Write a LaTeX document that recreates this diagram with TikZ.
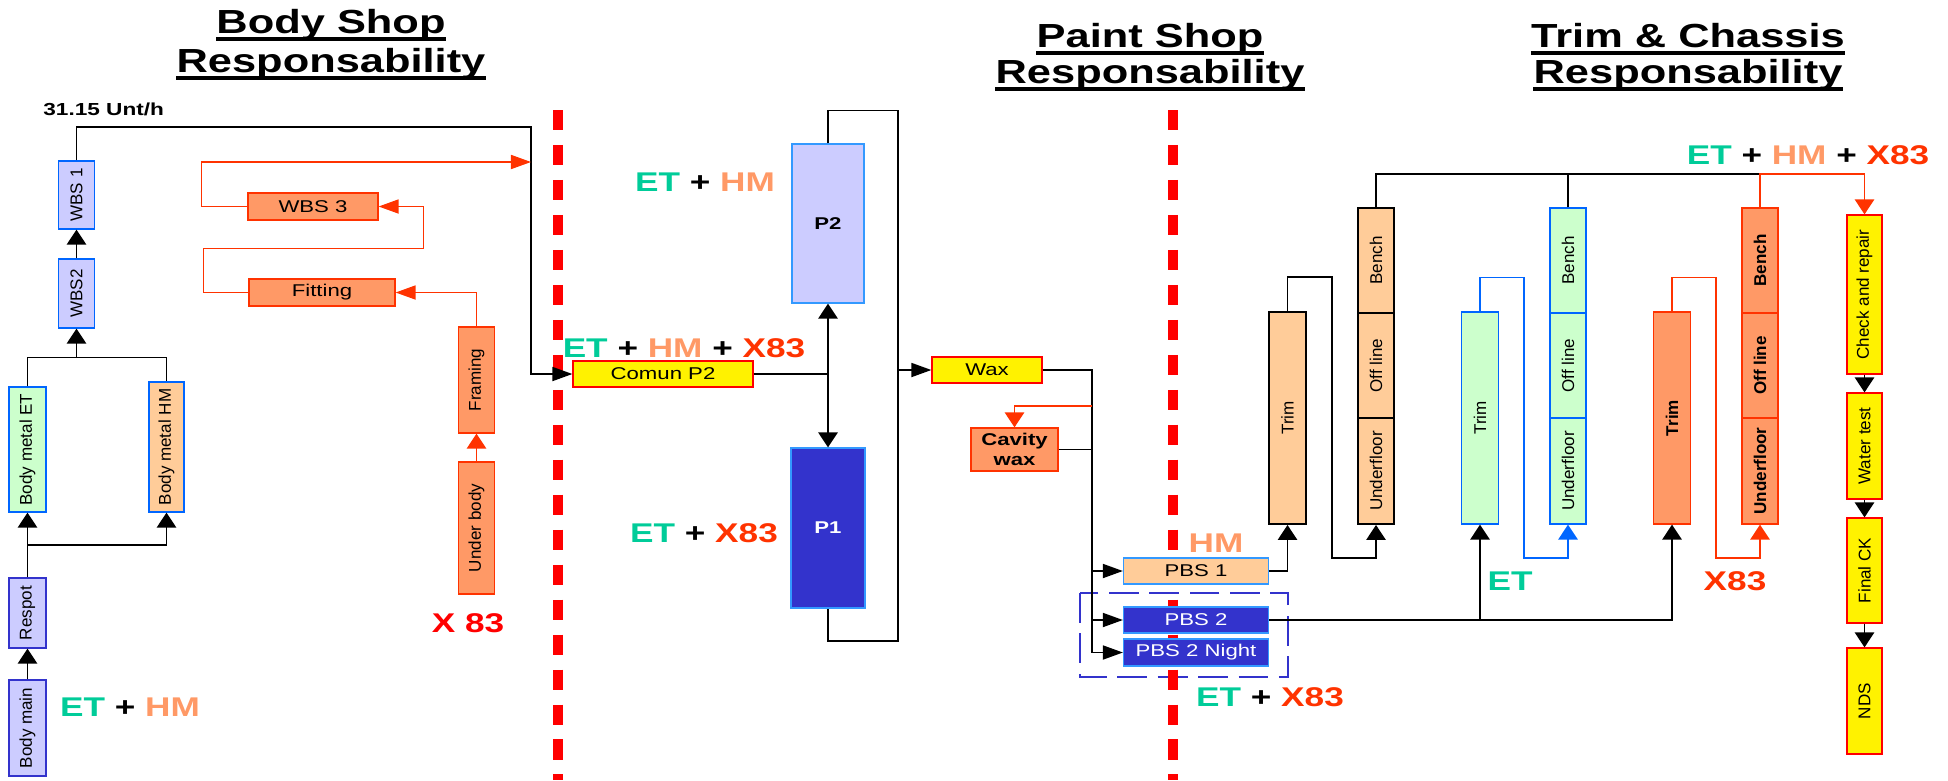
\documentclass[tikz,border=0pt]{standalone}
\usepackage{fontspec}
\setmainfont{Liberation Sans}
\newfontfamily\hfont{Liberation Sans}[FakeStretch=1.3]
\usetikzlibrary{arrows.meta}

\definecolor{lav}{HTML}{CCCCFF}
\definecolor{mint}{HTML}{CCFFCC}
\definecolor{peach}{HTML}{FFCC99}
\definecolor{salmon}{HTML}{FF9966}
\definecolor{navy}{HTML}{3333CC}
\definecolor{bblue}{HTML}{0066FF}
\definecolor{lblue}{HTML}{3399FF}
\definecolor{xred}{HTML}{FF3300}
\definecolor{etgreen}{HTML}{00CC99}
\definecolor{hmorange}{HTML}{FF9966}

\newcommand\lblET{\textcolor{etgreen}{ET}}
\newcommand\lblHM{\textcolor{hmorange}{HM}}
\newcommand\lblX{\textcolor{xred}{X83}}

\begin{document}
\begin{tikzpicture}[x=0.2mm, y=-0.2mm,
    sz/.style 2 args={minimum width=#1*0.2mm, minimum height=#2*0.2mm},
    hbox/.style={draw, line width=0.7pt, inner sep=0pt, align=center, font=\hfont\fontsize{9.7pt}{11pt}\selectfont},
    vbox/.style={draw, line width=0.7pt, inner sep=0pt, label={[rotate=90, inner sep=0pt, font=\fontsize{9.7pt}{11pt}\selectfont]center:#1}},
    vboxb/.style={draw, line width=0.7pt, inner sep=0pt, label={[rotate=90, inner sep=0pt, font=\bfseries\fontsize{9.7pt}{11pt}\selectfont]center:#1}},
    lavbox/.style={fill=lav, draw=bblue},
    mintbox/.style={fill=mint, draw=bblue},
    peachbox/.style={fill=peach, draw=bblue},
    salbox/.style={fill=salmon, draw=xred},
    yelbox/.style={fill=yellow, draw=red},
    navbox/.style={fill=navy, draw=lblue, text=white},
    line/.style={line width=0.9pt},
    rline/.style={xred, line width=0.9pt},
    bline/.style={bblue, line width=0.9pt},
    harr/.style={-{Triangle[length=11.4pt,width=8pt]}},
    varr/.style={-{Triangle[length=8.5pt,width=11pt]}},
    divider/.style={red, line width=6pt, dash pattern=on 11.4pt off 8.5pt},
    grp/.style={navy, line width=1.6pt, dash pattern=on 17pt off 6pt},
    ttl/.style={font=\hfont\bfseries\fontsize{19pt}{22pt}\selectfont, inner sep=0pt, anchor=base},
    uline/.style={line width=1.8pt},
    lbl/.style={font=\hfont\bfseries\fontsize{15.4pt}{17pt}\selectfont, inner sep=0pt}]

    \useasboundingbox (0,0) rectangle (1948,780);

    % titles
    \node[ttl] (tb1) at (331,33) {Body Shop};
    \node[ttl] (tb2) at (331,72) {Responsability};
    \node[ttl] (tp1) at (1150,47) {Paint Shop};
    \node[ttl] (tp2) at (1150,83) {Responsability};
    \node[ttl] (tt1) at (1688,47) {Trim \& Chassis\ };
    \node[ttl] (tt2) at (1688,83) {Responsability};
    \foreach \t in {tb1,tb2,tp1,tp2,tt1,tt2}
        \draw[uline] ([yshift=-1.2mm]\t.base west) -- ([yshift=-1.2mm]\t.base east);

    % group frame and shop borders
    \draw[grp] (1080,593) rectangle (1288,677);
    \draw[divider] (558,110) -- (558,780);
    \draw[divider] (1173,110) -- (1173,780);

    % body shop
    \node[vbox={Body main}, lavbox, draw=navy, sz={37}{96}] (bmain) at (27.5,728) {};
    \node[vbox={Respot}, lavbox, draw=navy, sz={37}{70}] (respot) at (27.5,613) {};
    \node[vbox={Body metal ET}, mintbox, sz={37}{125}] (bmet) at (27.5,449.5) {};
    \node[vbox={Body metal HM}, peachbox, sz={35}{130}] (bmhm) at (166.5,447) {};
    \node[vbox={WBS2}, lavbox, sz={36}{69}] (wbs2) at (76.5,293.5) {};
    \node[vbox={WBS 1}, lavbox, sz={36}{68}] (wbs1) at (76.5,195) {};
    \node[hbox, salbox, sz={130}{27}] (wbs3) at (313,206.5) {WBS 3};
    \node[hbox, salbox, sz={146}{27}] (fitting) at (322,292.5) {Fitting};
    \node[vbox={Framing}, salbox, sz={36}{106}] (framing) at (476.5,380) {};
    \node[vbox={Under body}, salbox, sz={36}{132}] (underbody) at (476.5,528) {};

    % paint shop
    \node[hbox, yelbox, sz={180}{26}] (comun) at (663,374) {Comun P2};
    \node[hbox, lavbox, draw=lblue, sz={72}{159}, font=\hfont\bfseries\fontsize{9.7pt}{11pt}\selectfont] (p2) at (828,223.5) {P2};
    \node[hbox, navbox, sz={74}{160}, font=\hfont\bfseries\fontsize{9.7pt}{11pt}\selectfont] (p1) at (828,528) {P1};
    \node[hbox, yelbox, sz={110}{26}] (wax) at (987,370) {Wax};
    \node[hbox, salbox, sz={87}{43}, font=\hfont\bfseries\fontsize{9.7pt}{11pt}\selectfont] (cavity) at (1014.5,449.5) {Cavity\\wax};
    \node[hbox, peachbox, draw=lblue, sz={145}{26}] (pbs1) at (1196,571) {PBS 1};
    \node[hbox, navbox, sz={145}{26}] (pbs2) at (1196,620) {PBS 2};
    \node[hbox, navbox, sz={145}{27}] (pbs2n) at (1196,652.5) {PBS 2 Night};

    % trim & chassis
    \node[vbox={Trim}, fill=peach, line width=1.1pt, sz={37}{212}] (trimhm) at (1287.5,418) {};
    \node[vbox={Bench}, fill=peach, line width=1.1pt, sz={36}{105}] (hbench) at (1376,260.5) {};
    \node[vbox={Off line}, fill=peach, line width=1.1pt, sz={36}{105}] (hoff) at (1376,365.5) {};
    \node[vbox={Underfloor}, fill=peach, line width=1.1pt, sz={36}{106}] (hunder) at (1376,471) {};
    \node[vbox={Trim}, mintbox, sz={37}{212}] (trimet) at (1480,418) {};
    \node[vbox={Bench}, mintbox, sz={36}{105}] (ebench) at (1568,260.5) {};
    \node[vbox={Off line}, mintbox, sz={36}{105}] (eoff) at (1568,365.5) {};
    \node[vbox={Underfloor}, mintbox, sz={36}{106}] (eunder) at (1568,471) {};
    \node[vboxb={Trim}, salbox, sz={37}{212}] (trimx) at (1672,418) {};
    \node[vboxb={Bench}, salbox, sz={36}{105}] (xbench) at (1760,260.5) {};
    \node[vboxb={Off line}, salbox, sz={36}{105}] (xoff) at (1760,365.5) {};
    \node[vboxb={Underfloor}, salbox, sz={36}{106}] (xunder) at (1760,471) {};
    \node[vbox={Check and repair}, yelbox, sz={35}{159}] (check) at (1864.5,294.5) {};
    \node[vbox={Water test}, yelbox, sz={35}{106}] (water) at (1864.5,446) {};
    \node[vbox={Final CK}, yelbox, sz={35}{105}] (final) at (1864.5,570.5) {};
    \node[vbox={NDS}, yelbox, sz={35}{106}] (nds) at (1864.5,701) {};

    % body shop flow
    \coordinate (jb1) at (27.5,545);
    \coordinate (jb2) at (76.5,358);
    \coordinate (cb) at (531,127);
    \coordinate (cr) at (531,162);
    \draw[line,varr] (bmain.north) -- (respot.south);
    \draw[line,varr] (respot.north) -- (bmet.south);
    \draw[line,varr] (jb1) -| (bmhm.south);
    \draw[line] (bmet.north) -- ++(0,-29) -| (bmhm.north);
    \draw[line,varr] (jb2) -- (wbs2.south);
    \draw[line,varr] (wbs2.north) -- (wbs1.south);
    \draw[line,harr] (wbs1.north) |- (cb) |- (comun.west);
    \draw[rline,varr] (underbody.north) -- (framing.south);
    \draw[rline,harr] (framing.north) |- (fitting.east);
    \draw[rline,harr] (fitting.west) -- ++(-45,0) -- ++(0,-44) -- ++(220,0) |- (wbs3.east);
    \draw[rline,harr] (wbs3.west) -- ++(-46,0) |- (cr);

    % paint shop flow
    \coordinate (jp) at (828,374);
    \coordinate (cp) at (898,641);
    \coordinate (cw) at (898,370);
    \coordinate (cv) at (1092,370);
    \coordinate (cv2) at (1092,652.5);
    \coordinate (cr2) at (1092,406);
    \coordinate (cc) at (1092,449.5);
    \draw[line] (comun.east) -- (jp);
    \draw[line,varr] (jp) -- (p2.south);
    \draw[line,varr] (jp) -- (p1.north);
    \draw[line] (p2.north) -- ++(0,-33) -| (cp) -| (p1.south);
    \draw[line,harr] (cw) -- (wax.west);
    \draw[line] (wax.east) -- (cv) -- (cv2);
    \draw[rline,varr] (cr2) -| (cavity.north);
    \draw[line] (cavity.east) -- (cc);
    \foreach \b in {pbs1,pbs2,pbs2n}
        \draw[line,harr] (cv |- \b.west) -- (\b.west);

    % trim & chassis flow
    \coordinate (ct) at (1760,174);
    \draw[line,varr] (pbs1.east) -| (trimhm.south);
    \draw[line,varr] (trimhm.north) -- ++(0,-34) -| (1332,558) -| (hunder.south);
    \draw[bline,varr] (trimet.north) -- ++(0,-34) -| (1524,558) -| (eunder.south);
    \draw[rline,varr] (trimx.north) -- ++(0,-34) -| (1716,558) -| (xunder.south);
    \draw[line,varr] (pbs2.east) -| (trimx.south);
    \draw[line,varr] (trimet.south |- pbs2.east) -- (trimet.south);
    \draw[line] (hbench.north) |- (ct);
    \draw[line] (ebench.north) -- (ebench.north |- ct);
    \draw[rline,varr] (xbench.north) -- (ct) -| (check.north);
    \draw[line,varr] (check.south) -- (water.north);
    \draw[line,varr] (water.south) -- (final.north);
    \draw[line,varr] (final.south) -- (nds.north);

    % labels
    \node[anchor=west, inner sep=0pt, font=\hfont\bfseries\fontsize{9.9pt}{11pt}\selectfont] (rate) at (43,109) {31.15 Unt/h};
    \node[lbl] (lbody) at (130,707) {\lblET{} + \lblHM};
    \node[lbl, text=red] (lunder) at (468,623) {X 83};
    \node[lbl] (lcomun) at (684,348) {\lblET{} + \lblHM{} + \lblX};
    \node[lbl] (lp2) at (705,182) {\lblET{} + \lblHM};
    \node[lbl] (lp1) at (704,533) {\lblET{} + \lblX};
    \node[lbl] (lpbs1) at (1216,543) {\lblHM};
    \node[lbl] (lpbs2) at (1270,697) {\lblET{} + \lblX};
    \node[lbl] (ltrimet) at (1510,581) {\lblET};
    \node[lbl] (ltrimx) at (1735,581) {\lblX};
    \node[lbl] (lall) at (1808,155) {\lblET{} + \lblHM{} + \lblX};
\end{tikzpicture}
\end{document}
